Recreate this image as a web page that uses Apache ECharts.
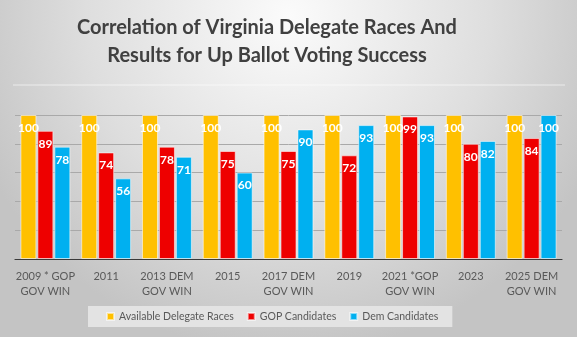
<!DOCTYPE html>
<html>
<head>
<meta charset="utf-8">
<script src="https://cdn.jsdelivr.net/npm/echarts@6/dist/echarts.min.js"></script>
<style>
  html, body { margin: 0; padding: 0; }
  #chart { width: 577px; height: 337px; }
</style>
</head>
<body>
<div id="chart"></div>
<script>
// Election cycles (two-line labels)
const categories = [
  '2009 * GOP\nGOV WIN', '2011', '2013 DEM\nGOV WIN', '2015', '2017 DEM\nGOV WIN',
  '2019', '2021 *GOP\nGOV WIN', '2023', '2025 DEM\nGOV WIN'
];
const availableRaces = [100, 100, 100, 100, 100, 100, 100, 100, 100];
const gopCandidates = [89, 74, 78, 75, 75, 72, 99, 80, 84];
const demCandidates = [78, 56, 71, 60, 90, 93, 93, 82, 100];
const seriesNames = ['Available Delegate Races', 'GOP Candidates', 'Dem Candidates'];
const seriesColors = ['#FFC000', '#EE0000', '#00B0F0'];

const chart = echarts.init(document.getElementById('chart'), null, { renderer: 'canvas' });

function barSeries(name, data, color) {
  return {
    name: name,
    type: 'bar',
    data: data,
    barWidth: 16,
    barGap: '6%',
    itemStyle: { color: color, borderColor: 'rgba(255,255,255,0.55)', borderWidth: 1 },
    label: {
      show: true,
      position: 'insideTop',
      distance: 7,
      color: '#ffffff',
      fontFamily: 'Lato',
      fontWeight: 'bold',
      fontSize: 12
    }
  };
}

chart.setOption({
  backgroundColor: {
    type: 'radial', x: 0.5, y: 0.05, r: 1.0,
    colorStops: [
      { offset: 0, color: '#fbfbfb' },
      { offset: 0.6, color: '#dedede' },
      { offset: 1, color: '#c4c4c4' }
    ]
  },
  animation: false,
  title: {
    text: 'Correlation of Virginia Delegate Races And\nResults for Up Ballot Voting Success',
    left: 262,
    textAlign: 'center',
    top: 9,
    textStyle: {
      fontFamily: 'Lato',
      fontWeight: 'bold',
      fontSize: 20,
      lineHeight: 28,
      color: '#404040'
    }
  },
  graphic: [{
    type: 'line',
    shape: { x1: 13, y1: 85, x2: 565, y2: 85 },
    style: { stroke: 'rgba(255,255,255,0.6)', lineWidth: 1 }
  }],
  legend: {
    data: seriesNames,
    left: 88,
    top: 306,
    padding: [5, 14, 5, 18],
    backgroundColor: '#e3e3e3',
    itemWidth: 7,
    itemHeight: 7,
    itemGap: 13,
    icon: 'rect',
    textStyle: { fontFamily: 'Lato', fontSize: 10.5, color: '#595959' }
  },
  grid: { left: 15, right: 15, top: 115, bottom: 78, containLabel: false },
  xAxis: {
    type: 'category',
    data: categories,
    axisLine: { lineStyle: { color: '#3a3a3a', width: 1.2 } },
    axisTick: { show: false },
    axisLabel: {
      interval: 0,
      fontFamily: 'Lato',
      fontSize: 11,
      lineHeight: 15,
      color: '#595959',
      margin: 10
    }
  },
  yAxis: {
    type: 'value',
    min: 0,
    max: 100,
    interval: 20,
    axisLabel: { show: false },
    axisLine: { show: false },
    axisTick: { show: false },
    splitLine: { lineStyle: { color: '#a9a9a9', width: 1 } }
  },
  series: [
    barSeries(seriesNames[0], availableRaces, seriesColors[0]),
    barSeries(seriesNames[1], gopCandidates, seriesColors[1]),
    barSeries(seriesNames[2], demCandidates, seriesColors[2])
  ]
});
</script>
</body>
</html>
